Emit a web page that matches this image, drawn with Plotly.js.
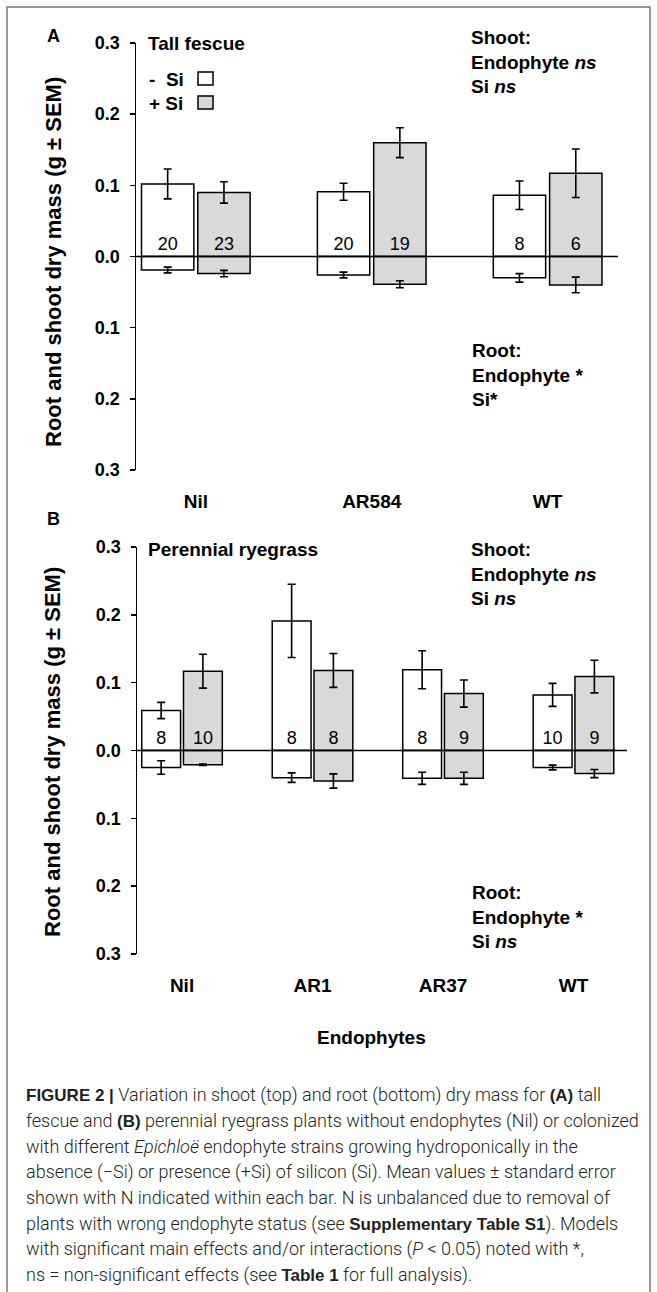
<!DOCTYPE html>
<html>
<head>
<meta charset="utf-8">
<script src="https://cdn.plot.ly/plotly-3.0.1.min.js"></script>
<style>
  html, body { margin: 0; padding: 0; background: #ffffff; }
  #chart { width: 657px; height: 1292px; }
</style>
</head>
<body>
<div id="chart"></div>
<script>
// ---------------- DATA ----------------
// Panel A: Tall fescue
const catsA = ['Nil', 'AR584', 'WT'];
const shootMinusA = [0.102, 0.091, 0.086];
const shootMinusSeA = [0.021, 0.012, 0.020];
const shootPlusA = [0.090, 0.160, 0.117];
const shootPlusSeA = [0.015, 0.021, 0.034];
const rootMinusA = [-0.019, -0.026, -0.030];
const rootMinusSeA = [0.004, 0.004, 0.006];
const rootPlusA = [-0.024, -0.039, -0.040];
const rootPlusSeA = [0.0045, 0.005, 0.011];
const nMinusA = [20, 20, 8];
const nPlusA = [23, 19, 6];

// Panel B: Perennial ryegrass
const catsB = ['Nil', 'AR1', 'AR37', 'WT'];
const shootMinusB = [0.059, 0.191, 0.119, 0.082];
const shootMinusSeB = [0.012, 0.054, 0.028, 0.017];
const shootPlusB = [0.117, 0.118, 0.084, 0.109];
const shootPlusSeB = [0.025, 0.025, 0.020, 0.024];
const rootMinusB = [-0.025, -0.040, -0.041, -0.025];
const rootMinusSeB = [0.010, 0.007, 0.009, 0.0035];
const rootPlusB = [-0.021, -0.045, -0.041, -0.034];
const rootPlusSeB = [0.001, 0.0105, 0.009, 0.006];
const nMinusB = [8, 8, 8, 10];
const nPlusB = [10, 8, 9, 9];

// Y tick labels (root values shown as absolute)
const yTickVals = [0.3, 0.2, 0.1, 0.0, -0.1, -0.2, -0.3];
const yTickText = ['0.3', '0.2', '0.1', '0.0', '0.1', '0.2', '0.3'];

// ---------------- STYLE ----------------
const W = 657, H = 1292;
const px = x => x / W;
const py = y => 1 - y / H;
const FONT = '"Liberation Sans", Arial, Helvetica, sans-serif';
const CAPFONT = 'Roboto, "Liberation Sans", Arial, sans-serif';
const WHITE = '#ffffff', GREY = '#d9d9d9';
const LINE = { color: '#000000', width: 1.5 };

function barTrace(x, y, se, fill, group, xa, ya, text) {
  const t = {
    type: 'bar', x: x, y: y, xaxis: xa, yaxis: ya,
    offsetgroup: group,
    marker: { color: fill, line: LINE },
    error_y: { type: 'data', array: se, visible: true, color: '#000', thickness: 1.6, width: 4 },
    showlegend: false, hoverinfo: 'skip'
  };
  if (text) {
    t.text = text.map(String);
    t.textposition = 'inside';
    t.insidetextanchor = 'start';
    t.textangle = 0;
    t.constraintext = 'none';
    t.insidetextfont = { family: FONT, size: 18, color: '#000' };
  }
  return t;
}

const data = [
  barTrace(catsA, shootMinusA, shootMinusSeA, WHITE, 'm', 'x', 'y', nMinusA),
  barTrace(catsA, shootPlusA, shootPlusSeA, GREY, 'p', 'x', 'y', nPlusA),
  barTrace(catsA, rootMinusA, rootMinusSeA, WHITE, 'm', 'x', 'y'),
  barTrace(catsA, rootPlusA, rootPlusSeA, GREY, 'p', 'x', 'y'),
  barTrace(catsB, shootMinusB, shootMinusSeB, WHITE, 'm', 'x2', 'y2', nMinusB),
  barTrace(catsB, shootPlusB, shootPlusSeB, GREY, 'p', 'x2', 'y2', nPlusB),
  barTrace(catsB, rootMinusB, rootMinusSeB, WHITE, 'm', 'x2', 'y2'),
  barTrace(catsB, rootPlusB, rootPlusSeB, GREY, 'p', 'x2', 'y2')
];

const yAxisBase = {
  range: [-0.3, 0.3], tickmode: 'array', tickvals: yTickVals, ticktext: yTickText,
  showline: true, linecolor: '#000', linewidth: 1.5,
  ticks: 'outside', ticklen: 5, tickwidth: 1.5, tickcolor: '#000',
  ticklabelstandoff: 6,
  showgrid: false, zeroline: false, automargin: false,
  tickfont: { family: FONT, size: 18, color: '#000', weight: 'bold' }
};
const xAxisBase = {
  type: 'category', showline: false, ticks: '', showgrid: false, zeroline: false,
  automargin: false, ticklabelstandoff: 18,
  tickfont: { family: FONT, size: 19, color: '#000', weight: 'bold' }
};

const layout = {
  width: W, height: H,
  margin: { l: 0, r: 0, t: 0, b: 0 },
  paper_bgcolor: '#fff', plot_bgcolor: 'rgba(0,0,0,0)',
  barmode: 'group', bargap: 0.36, bargroupgap: 0.07,
  showlegend: false,
  xaxis: Object.assign({}, xAxisBase, { domain: [px(136), px(618)], range: [-0.34, 2.40], anchor: 'y' }),
  yaxis: Object.assign({}, yAxisBase, { domain: [py(470), py(43)], anchor: 'x' }),
  xaxis2: Object.assign({}, xAxisBase, { domain: [px(137), px(627)], range: [-0.345, 3.41], anchor: 'y2' }),
  yaxis2: Object.assign({}, yAxisBase, { domain: [py(954), py(547)], anchor: 'x2' }),
  shapes: [
    // outer frame
    { type: 'rect', xref: 'paper', yref: 'paper', x0: px(7), x1: px(650), y0: -0.02, y1: py(7),
      line: { color: '#7a7a7a', width: 1.5 }, layer: 'below' },
    // zero lines drawn over the bars
    { type: 'line', xref: 'x domain', yref: 'y', x0: 0, x1: 1, y0: 0, y1: 0, line: { color: '#000', width: 1.5 }, layer: 'above' },
    { type: 'line', xref: 'x2 domain', yref: 'y2', x0: 0, x1: 1, y0: 0, y1: 0, line: { color: '#000', width: 1.5 }, layer: 'above' },
    // legend squares
    { type: 'rect', xref: 'paper', yref: 'paper', x0: px(198), x1: px(213), y0: py(85), y1: py(72),
      fillcolor: WHITE, line: { color: '#000', width: 1.5 } },
    { type: 'rect', xref: 'paper', yref: 'paper', x0: px(198), x1: px(213), y0: py(109), y1: py(96),
      fillcolor: GREY, line: { color: '#000', width: 1.5 } }
  ],
  annotations: []
};

function ann(text, x, y, opts) {
  return Object.assign({
    text: text, xref: 'paper', yref: 'paper', x: px(x), y: py(y),
    xanchor: 'left', yanchor: 'middle', showarrow: false, align: 'left',
    font: { family: FONT, size: 19, color: '#000', weight: 'bold' }
  }, opts || {});
}
const A = layout.annotations;
A.push(ann('A', 45, 36, { font: { family: FONT, size: 18, color: '#000', weight: 'bold' } }));
A.push(ann('B', 45, 519, { font: { family: FONT, size: 18, color: '#000', weight: 'bold' } }));
A.push(ann('Tall fescue', 146, 43));
A.push(ann('Perennial ryegrass', 146, 549));
A.push(ann('-  Si', 147, 79));
A.push(ann('+ Si', 147, 103));
A.push(ann('Shoot:<br>Endophyte <i>ns</i><br>Si <i>ns</i>', 469, 62));
A.push(ann('Root:<br>Endophyte *<br>Si*', 470, 375));
A.push(ann('Shoot:<br>Endophyte <i>ns</i><br>Si <i>ns</i>', 469, 574));
A.push(ann('Root:<br>Endophyte *<br>Si <i>ns</i>', 470, 917));
// y axis titles
const yTitle = 'Root and shoot dry mass (g ± SEM)';
const yTitleFont = { family: FONT, size: 22, color: '#000', weight: 'bold' };
A.push(ann(yTitle, 53, 262, { xanchor: 'center', textangle: -90, font: yTitleFont }));
A.push(ann(yTitle, 53, 752, { xanchor: 'center', textangle: -90, font: yTitleFont }));
// x axis title
A.push(ann('Endophytes', 371, 1037, { xanchor: 'center' }));

const B1 = '<span style="font-family:\'Liberation Sans\', Arial, sans-serif;font-weight:bold;font-size:17px">';
const B0 = '</span>';
const caption = [
  B1 + 'FIGURE 2 |' + B0 + ' Variation in shoot (top) and root (bottom) dry mass for ' + B1 + '(A)' + B0 + ' tall',
  'fescue and ' + B1 + '(B)' + B0 + ' perennial ryegrass plants without endophytes (Nil) or colonized',
  'with different <i>Epichloë</i> endophyte strains growing hydroponically in the',
  'absence (−Si) or presence (+Si) of silicon (Si). Mean values ± standard error',
  'shown with N indicated within each bar. N is unbalanced due to removal of',
  'plants with wrong endophyte status (see ' + B1 + 'Supplementary Table S1' + B0 + '). Models',
  'with significant main effects and/or interactions (<i>P</i> < 0.05) noted with *,',
  'ns = non-significant effects (see ' + B1 + 'Table 1' + B0 + ' for full analysis).'
];
caption.forEach((line, i) => {
  A.push(ann(line, 24, 1095 + i * 25.7, { font: { family: CAPFONT, size: 18, color: '#231f20', weight: 300 } }));
});

Plotly.newPlot('chart', data, layout, { staticPlot: true, displayModeBar: false });
</script>
</body>
</html>
